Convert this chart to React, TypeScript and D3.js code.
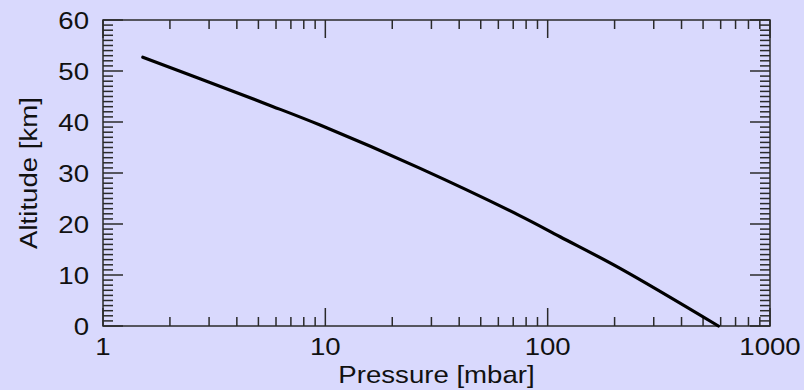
import * as d3 from "d3";

const width = 804;
const height = 390;
const margin = { top: 20, right: 34, bottom: 64, left: 103 };

// pressure [mbar] vs altitude [km]
const pressure = [1.51, 2.73, 5.45, 9.47, 26.7, 75.2, 113.7, 211.7, 586];
const altitude = [52.7, 48.5, 43.5, 39.4, 30.9, 21.6, 17.5, 11.3, 0];

const xTicks = [1, 10, 100, 1000];
const yTicks = [0, 10, 20, 30, 40, 50, 60];

const bg = "#d9d9fd";
const ink = "#2a2a2a";
const font = "'Liberation Sans', Arial, Helvetica, sans-serif";
const stretch = 1.15;

export default function App() {
  const x = d3.scaleLog().domain([1, 1000]).range([margin.left, width - margin.right]);
  const y = d3.scaleLinear().domain([0, 60]).range([height - margin.bottom, margin.top]);

  const x0 = x.range()[0];
  const x1 = x.range()[1];
  const y0 = y.range()[0];
  const y1 = y.range()[1];

  // minor x ticks 2..9 in each decade
  const xMinor: number[] = [];
  for (const dec of [1, 10, 100]) {
    for (let k = 2; k <= 9; k++) xMinor.push(dec * k);
  }
  const yMinor = d3.range(0, 61, 1).filter((v) => v % 10 !== 0);

  const pts = pressure.map((p, i) => [x(p), y(altitude[i])] as [number, number]);
  const line = d3.line().curve(d3.curveCatmullRom.alpha(0.5))(pts) || "";

  return (
    <svg
      width={width}
      height={height}
      style={{ position: "absolute", left: 0, top: 0, background: bg }}
    >
      <rect x={0} y={0} width={width} height={height} fill={bg} />

      <g stroke={ink} strokeWidth={1.5} fill="none">
        {/* x ticks, bottom and top */}
        {xMinor.map((v) => (
          <g key={"xm" + v}>
            <line x1={x(v)} x2={x(v)} y1={y0} y2={y0 - 9} />
            <line x1={x(v)} x2={x(v)} y1={y1} y2={y1 + 9} />
          </g>
        ))}
        {xTicks.map((v) => (
          <g key={"xM" + v}>
            <line x1={x(v)} x2={x(v)} y1={y0} y2={y0 - 18} />
            <line x1={x(v)} x2={x(v)} y1={y1} y2={y1 + 18} />
          </g>
        ))}
        {/* y ticks, left and right */}
        {yMinor.map((v) => (
          <g key={"ym" + v}>
            <line x1={x0} x2={x0 + 10} y1={y(v)} y2={y(v)} />
            <line x1={x1} x2={x1 - 10} y1={y(v)} y2={y(v)} />
          </g>
        ))}
        {yTicks.map((v) => (
          <g key={"yM" + v}>
            <line x1={x0} x2={x0 + 20} y1={y(v)} y2={y(v)} />
            <line x1={x1} x2={x1 - 20} y1={y(v)} y2={y(v)} />
          </g>
        ))}
        <rect x={x0} y={y1} width={x1 - x0} height={y0 - y1} />
      </g>

      <path d={line} fill="none" stroke="#000" strokeWidth={3.2} strokeLinecap="round" />

      <g fontFamily={font} fontSize={24} fill="#111">
        {xTicks.map((v) => (
          <text
            key={"xl" + v}
            transform={`translate(${x(v)},355) scale(${stretch},1)`}
            textAnchor="middle"
          >
            {v}
          </text>
        ))}
        {yTicks.map((v) => (
          <text
            key={"yl" + v}
            transform={`translate(89,${y(v) + 8.5}) scale(${stretch},1)`}
            textAnchor="end"
          >
            {v}
          </text>
        ))}
        <text
          transform={`translate(${(x0 + x1) / 2},383) scale(${stretch},1)`}
          textAnchor="middle"
        >
          Pressure [mbar]
        </text>
        <text
          transform={`translate(37,${(y0 + y1) / 2}) rotate(-90) scale(${stretch},1)`}
          textAnchor="middle"
        >
          Altitude [km]
        </text>
      </g>
    </svg>
  );
}
